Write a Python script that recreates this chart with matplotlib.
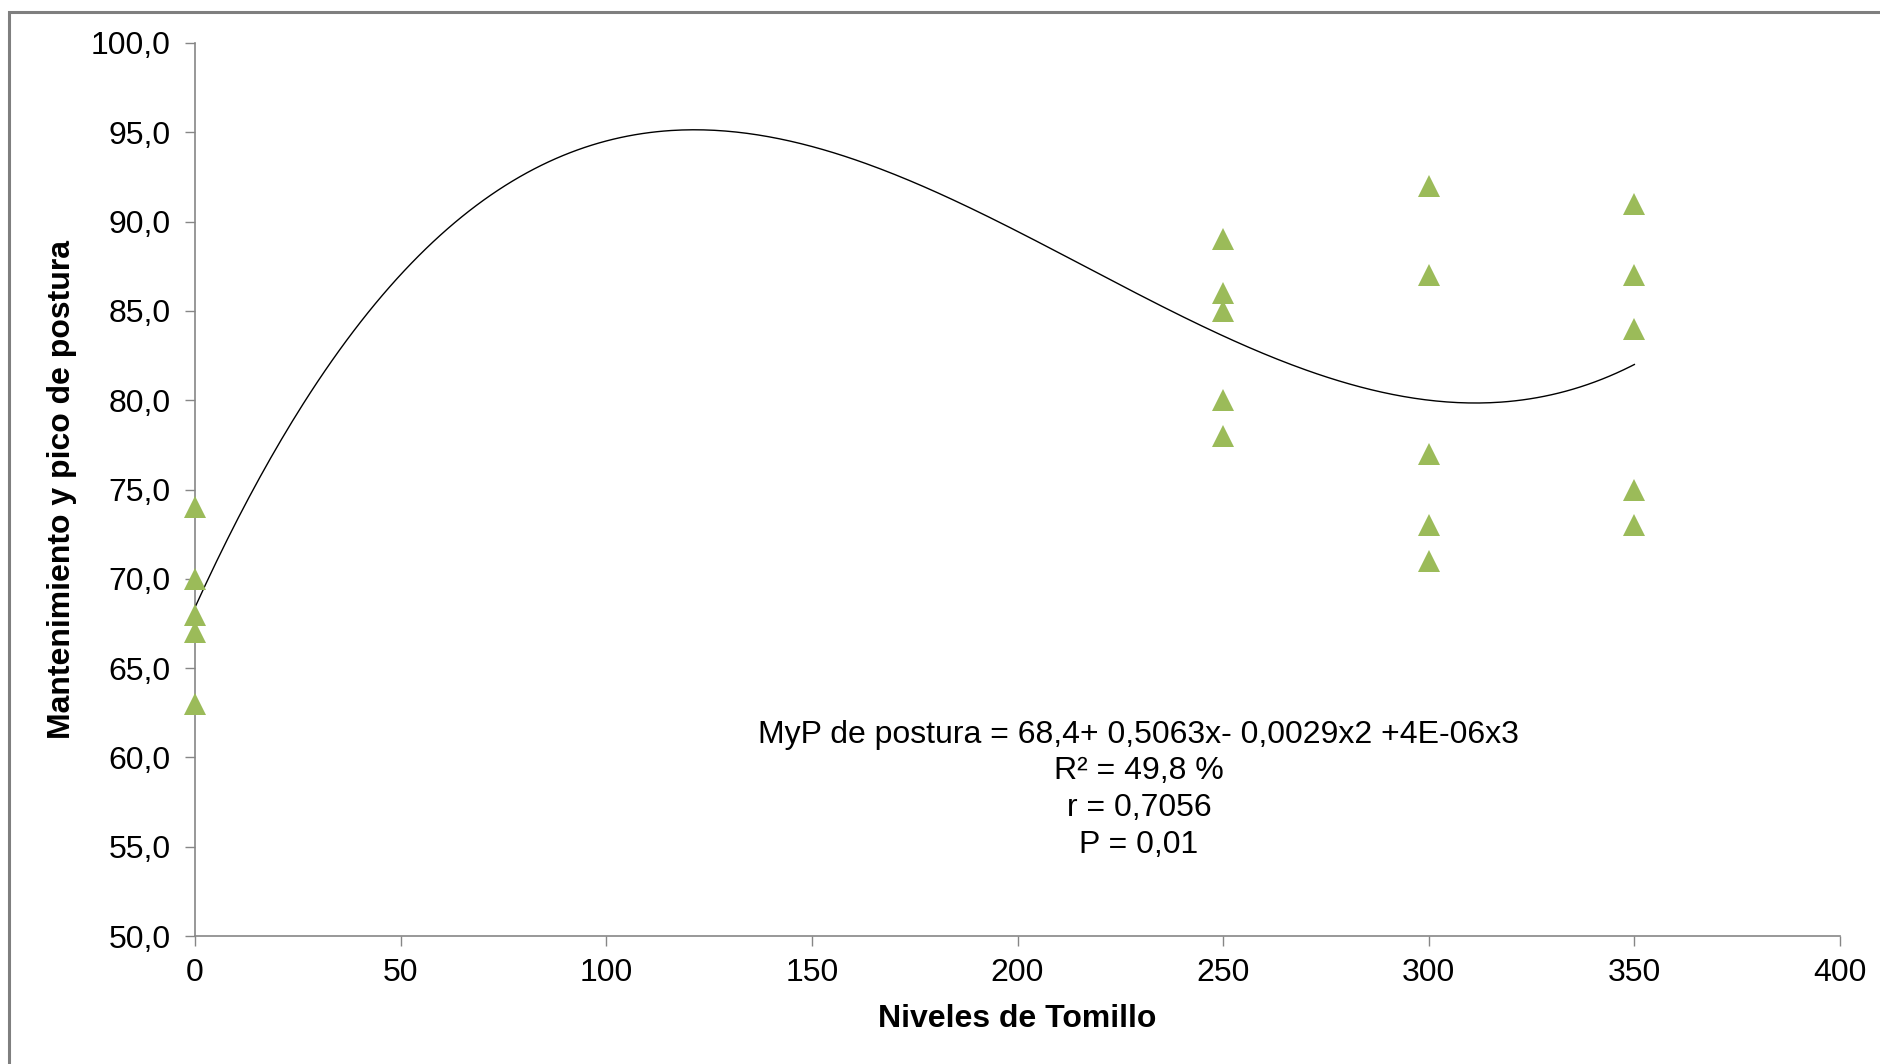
import numpy as np
import matplotlib.pyplot as plt
from matplotlib.patches import Rectangle

plt.rcParams['font.family'] = ['Liberation Sans', 'DejaVu Sans']

# Niveles de tomillo (mg/kg) y valores observados
niveles = [0, 0, 0, 0, 0,
           250, 250, 250, 250, 250,
           300, 300, 300, 300, 300,
           350, 350, 350, 350, 350]
postura = [74, 70, 68, 67, 63,
           89, 86, 85, 80, 78,
           92, 87, 77, 73, 71,
           91, 87, 84, 75, 73]

x_ticks = [0, 50, 100, 150, 200, 250, 300, 350, 400]
y_ticks = [50, 55, 60, 65, 70, 75, 80, 85, 90, 95, 100]

texto_ecuacion = ("MyP de postura = 68,4+ 0,5063x- 0,0029x2 +4E-06x3\n"
                  "R² = 49,8 %\n"
                  "r = 0,7056\n"
                  "P = 0,01")

gris = '#868686'
verde = '#9BBB59'

fig = plt.figure(figsize=(18.81, 10.64), dpi=100)
ax = fig.add_axes([195 / 1881, 1 - 936 / 1064, 1645 / 1881, 893 / 1064])

# linea de tendencia polinomica de grado 3 (como la de Excel)
coef = np.polyfit(niveles, postura, 3)
xs = np.linspace(0, 350, 400)
ax.plot(xs, np.polyval(coef, xs), color='black', lw=1.0, zorder=3)

ax.plot(niveles, postura, linestyle='none', marker='^', markersize=16.5,
        color=verde, markeredgewidth=0, zorder=4, clip_on=False)

ax.set_xlim(0, 400)
ax.set_ylim(50, 100)
ax.set_xticks(x_ticks)
ax.set_yticks(y_ticks)
ax.set_yticklabels([f'{v:.1f}'.replace('.', ',') for v in y_ticks])

for s in ['top', 'right']:
    ax.spines[s].set_visible(False)
for s in ['left', 'bottom']:
    ax.spines[s].set_color(gris)
    ax.spines[s].set_linewidth(1.2)

ax.tick_params(axis='both', direction='out', length=7.5, width=1.0,
               color=gris, labelsize=23)
ax.tick_params(axis='y', pad=10)
ax.tick_params(axis='x', pad=8)

ax.set_xlabel('Niveles de Tomillo', fontsize=23, fontweight='bold', labelpad=12)
ax.set_ylabel('Mantenimiento y pico de postura', fontsize=23,
              fontweight='bold', labelpad=10)

ax.text(229.5, 58.2, texto_ecuacion, ha='center', va='center',
        multialignment='center', fontsize=23, linespacing=1.29)

# borde del area del grafico
fig.patches.append(Rectangle((9 / 1881, -0.1), 1.2, 1.1 - 12 / 1064,
                             transform=fig.transFigure, fill=False,
                             edgecolor='#7f7f7f', lw=2.2, clip_on=False))

fig.savefig('out.png', dpi=100)
